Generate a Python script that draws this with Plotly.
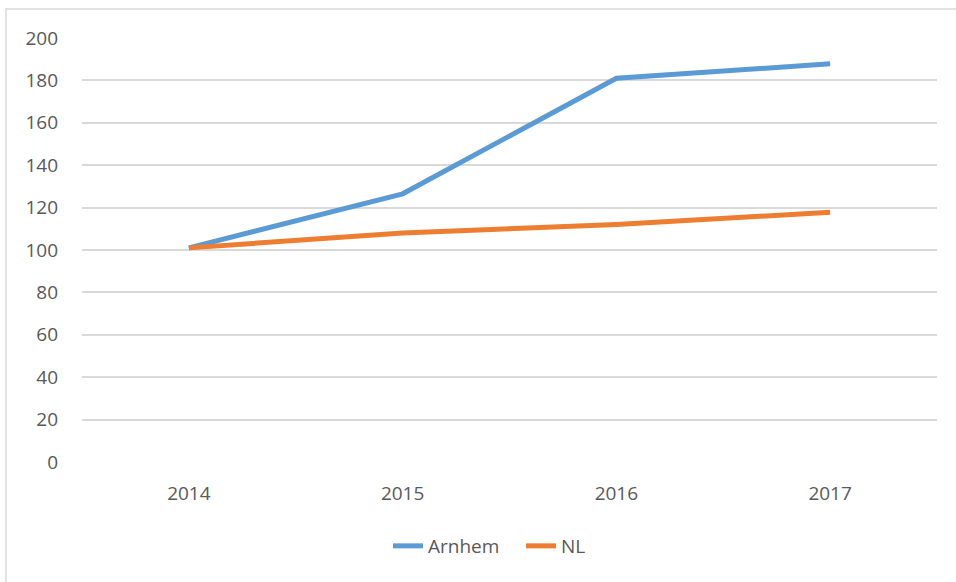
import plotly.graph_objects as go

years = ["2014", "2015", "2016", "2017"]
arnhem = [101, 126.5, 181, 187.8]
nl = [101, 108, 112, 117.8]
y_ticks = [0, 20, 40, 60, 80, 100, 120, 140, 160, 180, 200]

W, H = 956, 582
ML, MR, MT, MB = 82, 19, 38, 120
pw = W - ML - MR
ph = H - MT - MB

def px(x):
    return (x - ML) / pw

def py(y):
    return (H - MB - y) / ph

fig = go.Figure()
fig.add_trace(go.Scatter(x=years, y=arnhem, name="Arnhem", mode="lines",
                         line=dict(color="#5B9BD5", width=5)))
fig.add_trace(go.Scatter(x=years, y=nl, name="NL", mode="lines",
                         line=dict(color="#ED7D31", width=5)))

fig.update_layout(
    width=W, height=H,
    margin=dict(l=ML, r=MR, t=MT, b=MB),
    paper_bgcolor="white", plot_bgcolor="white",
    font=dict(family="Open Sans", size=19, color="#595959"),
    showlegend=True,
    legend=dict(orientation="h", x=px(388), y=py(546), xanchor="left", yanchor="middle",
                font=dict(size=19, color="#595959"), itemwidth=30, entrywidth=88),
    xaxis=dict(type="category", range=[-0.5, 3.5], showgrid=False, showline=False,
               zeroline=False, ticks="", ticklabelstandoff=18),
    yaxis=dict(range=[0, 200], tickvals=y_ticks, showgrid=True, gridcolor="#D9D9D9",
               gridwidth=1.5, zeroline=False, showline=False, ticks="", ticklabelstandoff=23),
    shapes=[dict(type="rect", xref="paper", yref="paper",
                 x0=px(6), x1=px(970), y0=py(600), y1=py(9),
                 line=dict(color="#D9D9D9", width=1.5), fillcolor="rgba(0,0,0,0)", layer="below")],
)

fig.write_html("out.html", config={"displayModeBar": False},
               post_script="document.body.style.margin='0';")
